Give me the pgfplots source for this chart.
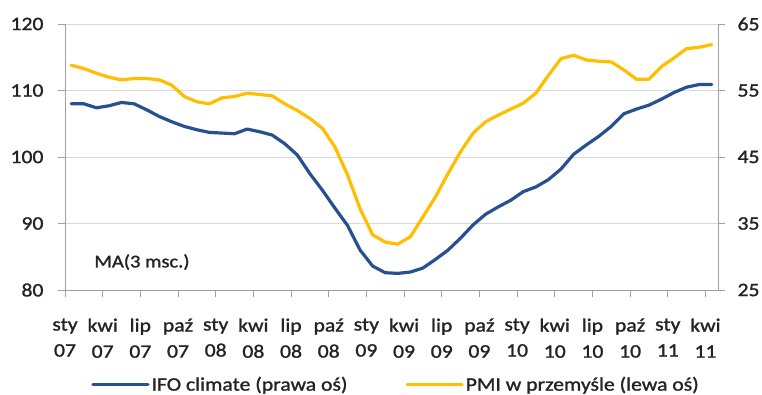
\documentclass[border=0pt]{standalone}
\usepackage{fontspec}
\setmainfont[FakeStretch=1.14, FakeBold=1.3]{Carlito}
\usepackage{pgfplots}
\usepackage{pgfplotstable}
\pgfplotsset{compat=1.18}

\definecolor{ifoblue}{RGB}{40,80,145}
\definecolor{pmigold}{RGB}{255,190,0}
\definecolor{gridgray}{RGB}{217,217,217}
\definecolor{axisgray}{RGB}{160,160,160}
\definecolor{labeltext}{RGB}{35,35,35}

% IFO business climate, 3-month moving average (left scale)
\pgfplotstableread{
m     v
0.5   108.0
1.5   108.0
2.5   107.4
3.5   107.7
4.5   108.2
5.5   108.0
6.5   107.1
7.5   106.1
8.5   105.3
9.5   104.6
10.5  104.1
11.5  103.7
12.5  103.6
13.5  103.5
14.5  104.2
15.5  103.8
16.5  103.3
17.5  102.0
18.5  100.3
19.5  97.5
20.5  95.0
21.5  92.3
22.5  89.7
23.5  86.0
24.5  83.6
25.5  82.6
26.5  82.5
27.5  82.7
28.5  83.3
29.5  84.6
30.5  86.0
31.5  87.8
32.5  89.8
33.5  91.4
34.5  92.5
35.5  93.5
36.5  94.8
37.5  95.5
38.5  96.6
39.5  98.2
40.5  100.4
41.5  101.8
42.5  103.1
43.5  104.6
44.5  106.5
45.5  107.2
46.5  107.8
47.5  108.7
48.5  109.7
49.5  110.5
50.5  110.9
51.5  110.9
}\ifodata

% Manufacturing PMI, 3-month moving average (right scale)
\pgfplotstableread{
m     v
0.5   58.8
1.5   58.3
2.5   57.6
3.5   57.0
4.5   56.6
5.5   56.8
6.5   56.8
7.5   56.6
8.5   55.8
9.5   54.1
10.5  53.3
11.5  53.0
12.5  53.9
13.5  54.1
14.5  54.6
15.5  54.4
16.5  54.2
17.5  53.0
18.5  52.0
19.5  50.8
20.5  49.3
21.5  46.5
22.5  42.3
23.5  37.2
24.5  33.3
25.5  32.2
26.5  31.9
27.5  33.0
28.5  36.0
29.5  39.0
30.5  42.5
31.5  45.8
32.5  48.6
33.5  50.3
34.5  51.3
35.5  52.2
36.5  53.1
37.5  54.6
38.5  57.3
39.5  59.8
40.5  60.3
41.5  59.6
42.5  59.4
43.5  59.3
44.5  58.1
45.5  56.7
46.5  56.7
47.5  58.6
48.5  59.9
49.5  61.3
50.5  61.5
51.5  61.9
}\pmidata

\pgfplotsset{
  common/.style={
    scale only axis, width=653pt, height=266pt,
    at={(0pt,0pt)}, anchor=south west,
    xmin=0, xmax=52,
    tick align=outside, major tick length=7pt,
    tick style={axisgray, line width=0.9pt},
    axis line style={axisgray, line width=1pt, -},
    tick label style={font=\fontsize{19}{26}\selectfont, text=labeltext},
    /pgf/number format/assume math mode=true,
  },
  ifoline/.style={ifoblue, line width=3.2pt, line join=round, line cap=round},
  pmiline/.style={pmigold, line width=3.2pt, line join=round, line cap=round},
}

\begin{document}
\begin{tikzpicture}
\useasboundingbox (-65pt,-104pt) rectangle (697pt,290pt);

\begin{axis}[
  common,
  ymin=80, ymax=120,
  axis x line*=bottom, axis y line*=left,
  ytick={80,90,...,120},
  ymajorgrids, grid style={gridgray, line width=1pt},
  xtick={0,3,...,51},
  xticklabels={{sty\\07},{kwi\\07},{lip\\07},{paź\\07},
               {sty\\08},{kwi\\08},{lip\\08},{paź\\08},
               {sty\\09},{kwi\\09},{lip\\09},{paź\\09},
               {sty\\10},{kwi\\10},{lip\\10},{paź\\10},
               {sty\\11},{kwi\\11}},
  xticklabel style={align=center, yshift=-18pt},
  yticklabel style={xshift=-11pt},
]
\addplot[ifoline] table[x=m, y=v] {\ifodata};
\node[font=\fontsize{18}{22}\selectfont, text=labeltext, anchor=center]
  at (axis cs:6.13,84.2) {MA(3 msc.)};
\end{axis}

\begin{axis}[
  common,
  ymin=25, ymax=65,
  axis x line=none, axis y line*=right,
  ytick={25,35,...,65},
  yticklabel style={xshift=9pt},
  legend columns=2,
  legend cell align=left,
  legend style={draw=none, fill=none,
    at={(axis description cs:0.507,-0.355)}, anchor=center,
    font=\fontsize{19}{22}\selectfont, text=labeltext,
    /tikz/every odd column/.append style={column sep=0pt},
    /tikz/every even column/.append style={column sep=56pt}},
  legend image code/.code={\draw[#1] (0pt,0pt) -- (55pt,0pt);},
]
\addlegendimage{ifoline}
\addlegendentry{IFO climate (prawa oś)}
\addplot[pmiline] table[x=m, y=v] {\pmidata};
\addlegendentry{PMI w przemyśle (lewa oś)}
\end{axis}
\end{tikzpicture}
\end{document}
